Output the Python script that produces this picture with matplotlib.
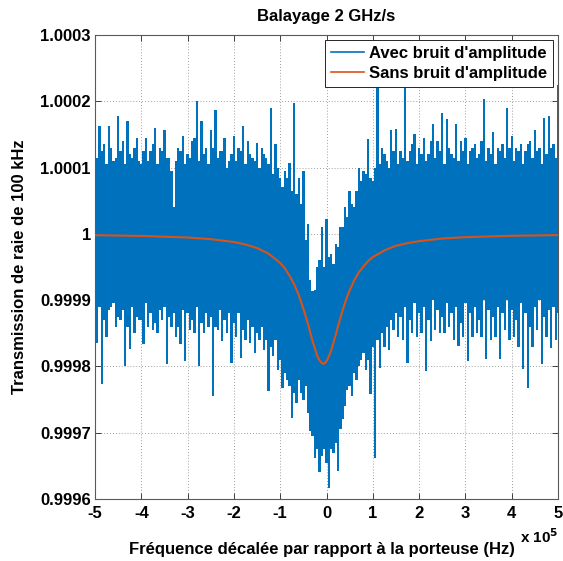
import numpy as np
import matplotlib
matplotlib.use("Agg")
import matplotlib.pyplot as plt
from matplotlib.lines import Line2D

# ---- data (frequency in units of 1e5 Hz, transmission deviation in units of 1e-4) ----
# noisy trace, read as its upper and lower excursion every 0.05e5 Hz
freq_noise = np.linspace(-5.0, 5.0, 201)
noise_upper = [
    1.20, 1.15, 1.63, 1.25, 1.35, 1.05, 1.62, 1.30, 1.10, 1.15,
    1.78, 1.25, 1.40, 1.05, 1.71, 1.20, 1.15, 1.30, 1.45, 1.10,
    1.05, 1.25, 1.45, 1.10, 1.25, 1.35, 1.60, 1.05, 1.30, 1.25,
    1.56, 1.15, 1.15, 0.95, 0.40, 1.10, 1.30, 1.25, 1.48, 1.05,
    1.20, 1.15, 1.40, 1.45, 2.00, 1.10, 1.70, 1.20, 1.30, 1.05,
    1.56, 1.30, 1.87, 1.15, 1.25, 1.25, 1.45, 1.00, 1.10, 1.20,
    1.48, 1.10, 1.30, 1.25, 1.63, 1.05, 1.40, 1.20, 1.15, 1.10,
    1.37, 1.00, 1.30, 1.20, 1.15, 1.05, 1.90, 0.90, 1.36, 1.00,
    0.85, 0.70, 0.95, 0.85, 1.07, 0.65, 1.97, 0.60, 0.85, 0.45,
    0.95, -0.10, 0.15, -0.70, -0.86, -0.85, -0.50, -0.40, 0.10, -0.50,
    0.23, -0.35, -0.30, -0.45, -0.15, -0.20, 0.10, 0.10, 0.40, 0.25,
    0.65, 0.45, 0.40, 0.65, 1.00, 0.80, 0.95, 0.90, 1.43, 0.85,
    0.80, 1.00, 2.22, 1.05, 1.30, 1.20, 1.10, 1.00, 1.56, 1.25,
    1.58, 1.05, 1.25, 1.15, 2.20, 1.10, 1.25, 1.35, 1.50, 1.05,
    1.30, 1.20, 1.45, 1.10, 1.20, 1.40, 1.66, 1.15, 1.40, 1.25,
    1.83, 1.05, 1.74, 1.30, 1.20, 1.15, 1.66, 1.10, 1.40, 1.25,
    1.45, 1.05, 1.25, 1.30, 1.35, 1.15, 1.20, 1.40, 2.04, 1.10,
    1.30, 1.20, 1.53, 1.05, 1.30, 1.25, 1.35, 1.15, 1.90, 1.30,
    1.48, 1.10, 1.30, 1.25, 1.35, 1.05, 1.25, 1.35, 1.40, 1.15,
    1.56, 1.25, 1.30, 1.05, 1.75, 1.20, 1.78, 1.30, 1.35, 1.15,
    2.25,
]
noise_lower = [
    -1.20, -1.65, -1.10, -2.27, -1.30, -1.55, -1.15, -1.10, -1.05, -1.40,
    -1.25, -1.30, -1.15, -2.00, -1.40, -1.74, -1.10, -1.50, -1.25, -1.30,
    -1.30, -1.66, -1.05, -1.40, -1.20, -1.45, -1.35, -1.50, -1.15, -1.30,
    -1.10, -1.96, -1.25, -1.40, -1.20, -1.55, -1.40, -1.66, -1.15, -1.92,
    -1.20, -1.45, -1.30, -1.50, -1.10, -2.00, -1.35, -1.50, -1.20, -1.40,
    -1.25, -2.45, -1.40, -1.45, -1.15, -1.62, -1.30, -1.50, -1.20, -1.95,
    -1.35, -1.55, -1.20, -1.87, -1.45, -1.60, -1.30, -1.65, -1.40, -1.80,
    -1.50, -1.60, -1.40, -1.75, -1.60, -2.37, -1.70, -1.85, -1.60, -2.05,
    -1.90, -2.33, -2.10, -2.20, -2.30, -2.78, -2.40, -2.55, -2.20, -2.40,
    -2.50, -2.30, -2.70, -2.98, -3.05, -3.38, -3.25, -3.60, -3.35, -3.25,
    -3.45, -3.84, -3.25, -3.30, -3.15, -3.58, -2.95, -2.80, -2.60, -2.35,
    -2.30, -2.45, -2.10, -2.20, -2.00, -1.90, -1.80, -2.05, -1.90, -2.42,
    -1.70, -3.38, -1.60, -2.02, -1.50, -1.70, -1.40, -1.75, -1.30, -1.45,
    -1.20, -1.55, -1.25, -1.60, -1.10, -1.95, -1.30, -1.50, -1.05, -1.55,
    -1.20, -1.50, -1.10, -2.07, -1.30, -1.62, -1.00, -1.45, -1.15, -1.50,
    -1.25, -1.50, -1.05, -1.40, -1.20, -1.60, -1.10, -1.69, -1.35, -1.55,
    -1.05, -1.92, -1.20, -1.55, -1.10, -1.50, -1.30, -1.55, -1.00, -1.89,
    -1.15, -1.60, -1.25, -1.55, -1.10, -1.89, -1.20, -1.45, -1.00, -1.60,
    -1.15, -1.55, -1.30, -1.70, -1.05, -2.04, -1.20, -2.33, -1.40, -1.70,
    -1.10, -1.45, -1.00, -1.96, -1.25, -1.55, -1.15, -1.72, -1.10, -1.60,
    -1.20,
]

# trace without amplitude noise
freq_clean = [-5.0, -4.0, -3.0, -2.5, -2.0, -1.75, -1.5, -1.25, -1.0, -0.9, -0.8, -0.7,
              -0.6, -0.5, -0.45, -0.4, -0.35, -0.3, -0.25, -0.2, -0.15, -0.1, -0.05,
              0.0, 0.05, 0.1, 0.15, 0.2, 0.25, 0.3, 0.35, 0.4, 0.45, 0.5, 0.6, 0.7,
              0.8, 0.9, 1.0, 1.25, 1.5, 1.75, 2.0, 2.5, 3.0, 4.0, 5.0]
trans_clean = [-0.020, -0.031, -0.055, -0.080, -0.123, -0.16, -0.214, -0.30, -0.44, -0.52,
               -0.63, -0.76, -0.92, -1.13, -1.24, -1.36, -1.49, -1.62, -1.73, -1.84,
               -1.91, -1.95, -1.96, -1.92, -1.85, -1.76, -1.64, -1.52, -1.39, -1.27,
               -1.15, -1.04, -0.94, -0.85, -0.70, -0.58, -0.49, -0.41, -0.35, -0.25,
               -0.18, -0.14, -0.11, -0.07, -0.05, -0.029, -0.019]

yticks = [0.9996, 0.9997, 0.9998, 0.9999, 1.0, 1.0001, 1.0002, 1.0003]
ytick_labels = ['0.9996', '0.9997', '0.9998', '0.9999', '1', '1.0001', '1.0002', '1.0003']
xticks = [-5, -4, -3, -2, -1, 0, 1, 2, 3, 4, 5]
xtick_labels = ['-5', '-4', '-3', '-2', '-1', '0', '1', '2', '3', '4', '5']

title = 'Balayage 2 GHz/s'
xlabel = 'Fréquence décalée par rapport à la porteuse (Hz)'
ylabel = 'Transmission de raie de 100 kHz'
legend_labels = ["Avec bruit d'amplitude", "Sans bruit d'amplitude"]

BLUE = '#0072BD'
ORANGE = '#D95319'
FS = 12

plt.rcParams['font.family'] = ['Liberation Sans', 'DejaVu Sans']
plt.rcParams['font.weight'] = 'bold'

fig = plt.figure(figsize=(5.63, 5.61), dpi=100)
ax = fig.add_axes([95/563, 1-499/561, 463/563, 464/561])

ax.fill_between(freq_noise, 1 + np.array(noise_lower) * 1e-4, 1 + np.array(noise_upper) * 1e-4,
                step='mid', color=BLUE, lw=0, zorder=2)
ax.plot(freq_clean, 1 + np.array(trans_clean) * 1e-4, color=ORANGE, lw=1.5, zorder=3)

ax.set_xlim(-5, 5)
ax.set_ylim(0.9996, 1.0003)
ax.set_xticks(xticks)
ax.set_xticklabels(xtick_labels)
ax.set_yticks(yticks)
ax.set_yticklabels(ytick_labels)
ax.tick_params(direction='in', top=True, right=True, length=4, width=0.6,
               labelsize=FS, colors='#262626')
ax.tick_params(axis='x', pad=5)
ax.tick_params(axis='y', pad=3)
for lab in ax.get_xticklabels() + ax.get_yticklabels():
    lab.set_fontweight('bold')
    lab.set_color('black')

ax.grid(True, linestyle=(0, (1, 2.5)), color='#7f7f7f', lw=0.6, zorder=0)
ax.set_axisbelow(True)
for s in ax.spines.values():
    s.set_color('#5a5a5a')
    s.set_linewidth(0.8)

ax.set_title(title, fontsize=FS, fontweight='bold', pad=10)
ax.set_xlabel(xlabel, fontsize=FS, fontweight='bold')
ax.xaxis.set_label_coords(0.49, -0.092)
ax.set_ylabel(ylabel, fontsize=FS, fontweight='bold')
ax.yaxis.set_label_coords(-0.163, 0.5)
ax.yaxis.label.set_va('center')
ax.xaxis.label.set_va('top')

fig.text(520/563, 1-546/561, r'x 10$^{\mathbf{5}}$', fontsize=11, fontweight='bold',
         ha='left', va='bottom')

handles = [Line2D([], [], color=BLUE, lw=1.2), Line2D([], [], color=ORANGE, lw=1.2)]
leg = ax.legend(handles, legend_labels, loc='upper right', fontsize=FS, frameon=True,
                fancybox=False, borderpad=0.35, handlelength=2.0, handletextpad=0.3,
                labelspacing=0.3, borderaxespad=0.3)
leg.get_frame().set_edgecolor('#262626')
leg.get_frame().set_linewidth(0.7)
leg.get_frame().set_alpha(1)
for t in leg.get_texts():
    t.set_fontweight('bold')

fig.savefig('out.png', dpi=100)
